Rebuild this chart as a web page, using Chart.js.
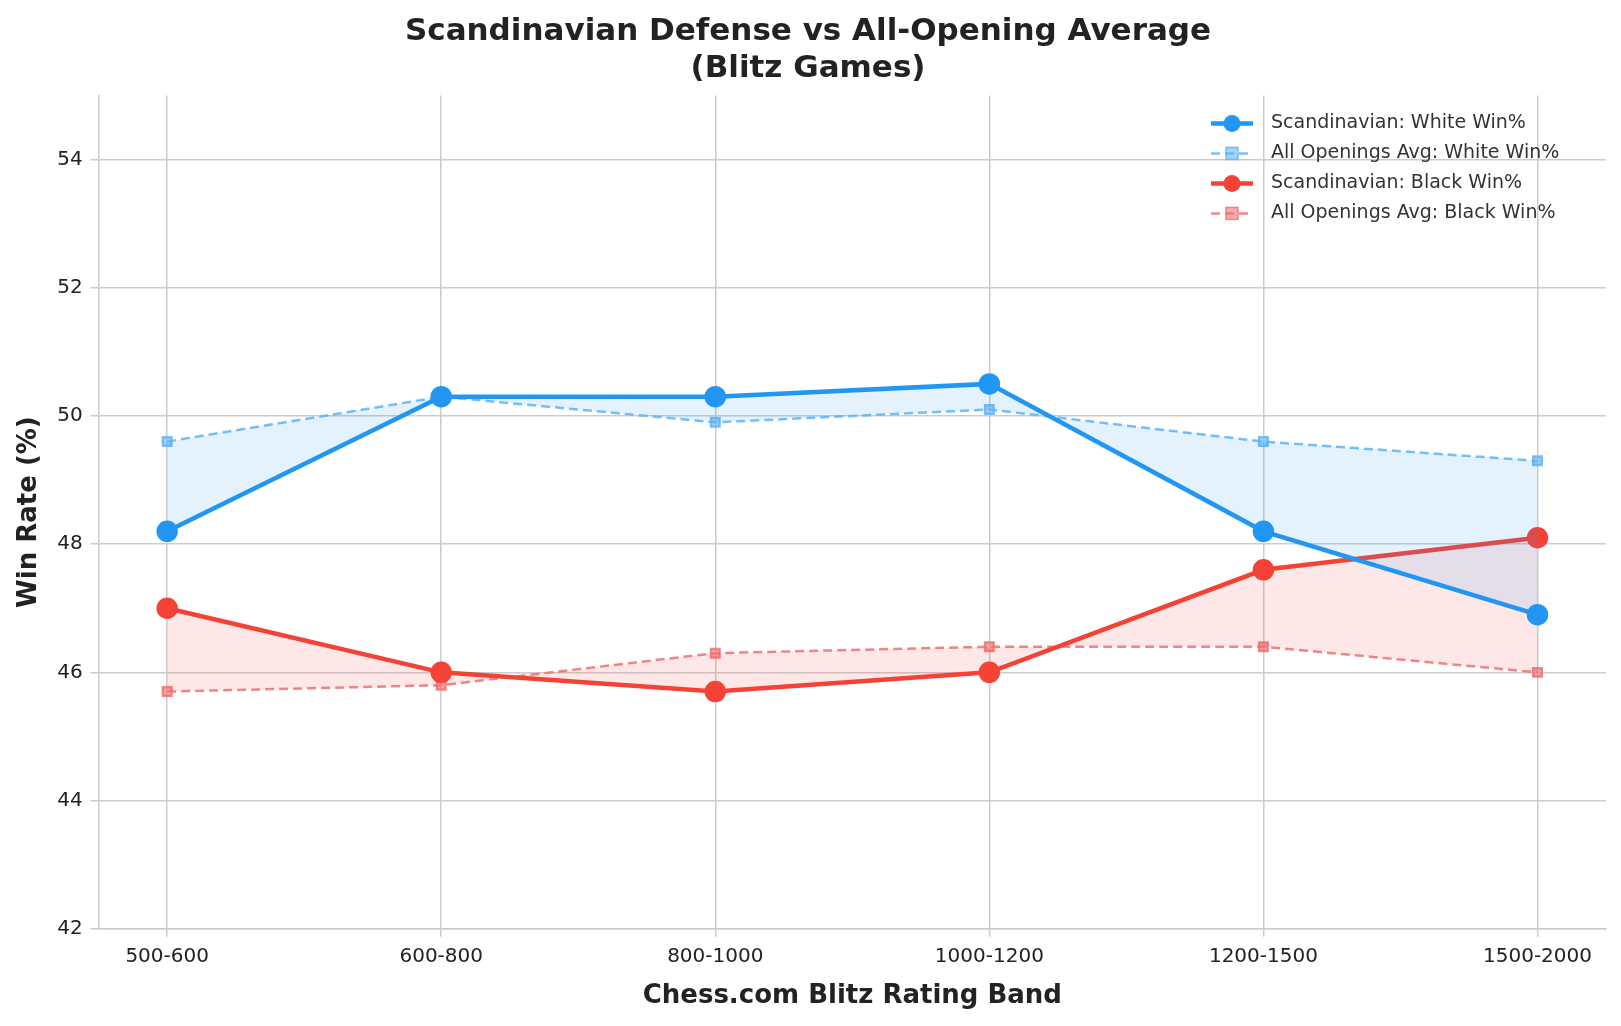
<!DOCTYPE html>
<html><head><meta charset="utf-8">
<script src="https://cdn.jsdelivr.net/npm/chart.js@4"></script>
<style>html,body{margin:0;background:#fff}#w{width:1621px;height:1026px}</style>
</head><body><div id="w"><canvas id="c"></canvas></div>
<script>
const categories=["500-600","600-800","800-1000","1000-1200","1200-1500","1500-2000"];
const scandWhite=[48.2,50.3,50.3,50.5,48.2,46.9];
const avgWhite=[49.6,50.3,49.9,50.1,49.6,49.3];
const scandBlack=[47.0,46.0,45.7,46.0,47.6,48.1];
const avgBlack=[45.7,45.8,46.3,46.4,46.4,46.0];
const yTicks=[42,44,46,48,50,52,54];
const pts=a=>a.map((v,i)=>({x:i,y:v}));
const F="'DejaVu Sans'";
const legendPlugin={id:'lg',afterDraw(chart){
  const ctx=chart.ctx,a=chart.chartArea;
  const x0=a.right-395,y0=a.top+28,dy=30;
  ctx.save();ctx.font="19px "+F;ctx.textBaseline='middle';
  chart.data.datasets.forEach((d,i)=>{
    const y=y0+i*dy;
    ctx.strokeStyle=d.borderColor;ctx.lineWidth=d.borderWidth;ctx.setLineDash(d.borderDash||[]);
    ctx.beginPath();ctx.moveTo(x0,y);ctx.lineTo(x0+42,y);ctx.stroke();ctx.setLineDash([]);
    ctx.fillStyle=d.pointBackgroundColor;ctx.strokeStyle=d.borderColor;
    if(d.pointStyle==='circle'){ctx.beginPath();ctx.arc(x0+21,y,d.pointRadius,0,Math.PI*2);ctx.fill();}
    else{ctx.lineWidth=1.5;ctx.fillRect(x0+21-d.pointRadius,y-d.pointRadius,2*d.pointRadius,2*d.pointRadius);ctx.strokeRect(x0+21-d.pointRadius,y-d.pointRadius,2*d.pointRadius,2*d.pointRadius);}
    ctx.fillStyle='#333';ctx.fillText(d.label,x0+60,y);
  });ctx.restore();}};
new Chart(document.getElementById('c'),{
 type:'line',
 data:{datasets:[
  {label:'Scandinavian: White Win%',data:pts(scandWhite),borderColor:'#2196F3',backgroundColor:'rgba(33,150,243,0.12)',borderWidth:4.5,pointRadius:8.5,pointHoverRadius:8.5,pointBackgroundColor:'#2196F3',pointBorderColor:'#2196F3',pointStyle:'circle',fill:{target:1},order:1},
  {label:'All Openings Avg: White Win%',data:pts(avgWhite),borderColor:'rgba(100,181,246,0.85)',backgroundColor:'rgba(100,181,246,0.6)',pointBackgroundColor:'rgba(100,181,246,0.6)',borderWidth:2.5,borderDash:[9,5],pointRadius:6,pointStyle:'rect',fill:false,order:2},
  {label:'Scandinavian: Black Win%',data:pts(scandBlack),borderColor:'#F44336',backgroundColor:'rgba(244,67,54,0.12)',borderWidth:4.5,pointRadius:8.5,pointHoverRadius:8.5,pointBackgroundColor:'#F44336',pointBorderColor:'#F44336',pointStyle:'circle',fill:{target:3},order:1},
  {label:'All Openings Avg: Black Win%',data:pts(avgBlack),borderColor:'rgba(239,115,115,0.85)',backgroundColor:'rgba(239,115,115,0.6)',pointBackgroundColor:'rgba(239,115,115,0.6)',borderWidth:2.5,borderDash:[9,5],pointRadius:6,pointStyle:'rect',fill:false,order:2}
 ]},
 options:{responsive:true,maintainAspectRatio:false,animation:false,
  layout:{padding:{left:10,right:15,top:5,bottom:10}},
  plugins:{
   title:{display:true,text:['Scandinavian Defense vs All-Opening Average','(Blitz Games)'],color:'#222',font:{family:F,size:31,weight:'bold'},padding:{top:8,bottom:8}},
   legend:{display:false},
   tooltip:{enabled:false}},
  scales:{
   x:{type:'linear',min:-0.25,max:5.25,afterBuildTicks:s=>{s.ticks=categories.map((_,i)=>({value:i}));},
    ticks:{callback:v=>categories[v],color:'#222',font:{family:F,size:20},padding:8},
    grid:{color:'#cccccc',lineWidth:1.5},border:{color:'#cccccc',width:1.5},
    title:{display:true,text:'Chess.com Blitz Rating Band',color:'#222',font:{family:F,size:26,weight:'bold'}}},
   y:{min:42,max:55,afterBuildTicks:s=>{s.ticks=yTicks.map(v=>({value:v}));},
    ticks:{color:'#222',font:{family:F,size:20},padding:8},
    grid:{color:'#cccccc',lineWidth:1.5},border:{color:'#cccccc',width:1.5},
    title:{display:true,text:'Win Rate (%)',color:'#222',font:{family:F,size:26,weight:'bold'}}}
  }},
 plugins:[legendPlugin]
});
</script></body></html>
